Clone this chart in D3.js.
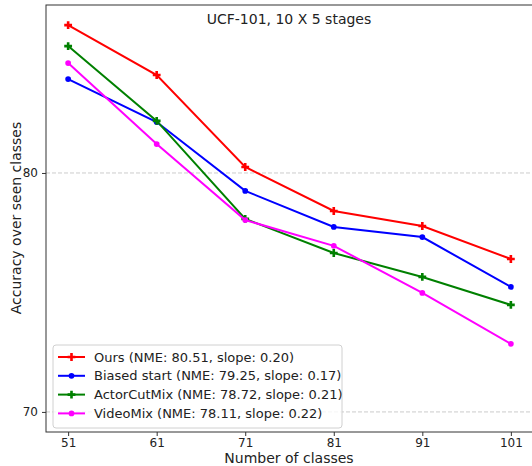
<!DOCTYPE html>
<meta charset="utf-8">
<style>
    body { margin: 0; background: #fff; }
    svg text { font-family: "DejaVu Sans", sans-serif; fill: #222; }
    .tick text { font-size: 12px; }
</style>
<svg id="chart" width="532" height="466"></svg>
<script src="https://cdn.jsdelivr.net/npm/d3@7"></script>
<script>
    // data
    const classes = [51, 61, 71, 81, 91, 101];
    const ours = [86.19, 84.1, 80.25, 78.41, 77.78, 76.4];
    const biasedStart = [83.93, 82.13, 79.25, 77.74, 77.32, 75.23];
    const actorCutMix = [85.31, 82.18, 78.08, 76.65, 75.65, 74.48];
    const videoMix = [84.6, 81.21, 78.03, 76.95, 74.98, 72.85];
    const yTicks = [70, 80];
    const labels = [
        "Ours (NME: 80.51, slope: 0.20)",
        "Biased start (NME: 79.25, slope: 0.17)",
        "ActorCutMix (NME: 78.72, slope: 0.21)",
        "VideoMix (NME: 78.11, slope: 0.22)"
    ];

    const series = [
        {name: labels[0], values: ours, color: "#ff0000", marker: d3.symbolCross},
        {name: labels[1], values: biasedStart, color: "#0000ff", marker: d3.symbolCircle},
        {name: labels[2], values: actorCutMix, color: "#008000", marker: d3.symbolCross},
        {name: labels[3], values: videoMix, color: "#ff00ff", marker: d3.symbolCircle}
    ];

    const margin = {left: 46, top: 5, right: -1, bottom: 34};
    const width = 532, height = 466;
    const svg = d3.select("#chart");

    const x = d3.scaleLinear().domain([48.5, 103.5]).range([margin.left, width - margin.right]);
    const y = d3.scaleLinear().domain([69.16, 87.03]).range([height - margin.bottom, margin.top]);

    // grid
    svg.append("g").selectAll("line")
        .data(yTicks)
        .join("line")
        .attr("x1", margin.left).attr("x2", width - margin.right)
        .attr("y1", d => y(d)).attr("y2", d => y(d))
        .attr("stroke", "#cccccc").attr("stroke-width", 1)
        .attr("stroke-dasharray", "4,2");

    // frame
    svg.append("rect")
        .attr("x", margin.left).attr("y", margin.top)
        .attr("width", width - margin.right - margin.left)
        .attr("height", height - margin.bottom - margin.top)
        .attr("fill", "none").attr("stroke", "#333").attr("stroke-width", 1);

    const xAxis = svg.append("g")
        .attr("transform", `translate(0,${height - margin.bottom})`)
        .call(d3.axisBottom(x).tickValues(classes).tickFormat(d3.format("d")).tickSize(4).tickPadding(2));
    const yAxis = svg.append("g")
        .attr("transform", `translate(${margin.left},0)`)
        .call(d3.axisLeft(y).tickValues(yTicks).tickFormat(d3.format("d")).tickSize(4).tickPadding(4));
    [xAxis, yAxis].forEach(a => {
        a.select(".domain").remove();
        a.selectAll(".tick line").attr("stroke", "#333");
        a.selectAll(".tick text").attr("fill", "#222");
    });

    const line = d3.line().x((d, i) => x(classes[i])).y(d => y(d));

    series.forEach(s => {
        svg.append("path")
            .datum(s.values)
            .attr("d", line)
            .attr("fill", "none")
            .attr("stroke", s.color)
            .attr("stroke-width", 2);
        svg.append("g").selectAll("path")
            .data(s.values)
            .join("path")
            .attr("transform", (d, i) => `translate(${x(classes[i])},${y(d)})`)
            .attr("d", d3.symbol().type(s.marker).size(s.marker === d3.symbolCross ? 34 : 26))
            .attr("fill", s.color);
    });

    // title
    svg.append("text")
        .attr("x", 289).attr("y", 24)
        .attr("text-anchor", "middle")
        .style("font-size", "14px")
        .text("UCF-101, 10 X 5 stages");

    // axis labels
    svg.append("text")
        .attr("x", 289).attr("y", 463)
        .attr("text-anchor", "middle")
        .style("font-size", "14px")
        .text("Number of classes");
    svg.append("text")
        .attr("transform", "translate(21,218) rotate(-90)")
        .attr("text-anchor", "middle")
        .style("font-size", "14px")
        .text("Accuracy over seen classes");

    // legend
    const legend = svg.append("g");
    legend.append("rect")
        .attr("x", 53).attr("y", 345).attr("width", 289).attr("height", 83)
        .attr("rx", 3)
        .attr("fill", "rgba(255,255,255,0.8)")
        .attr("stroke", "#d0d0d0");
    const item = legend.selectAll("g.item")
        .data(series)
        .join("g")
        .attr("class", "item")
        .attr("transform", (d, i) => `translate(58,${357 + i * 18.8})`);
    item.append("line")
        .attr("x1", 0).attr("x2", 27)
        .attr("stroke", d => d.color).attr("stroke-width", 2);
    item.append("path")
        .attr("transform", "translate(13.5,0)")
        .attr("d", d => d3.symbol().type(d.marker).size(d.marker === d3.symbolCross ? 34 : 26)())
        .attr("fill", d => d.color);
    item.append("text")
        .attr("x", 36).attr("dy", "0.35em")
        .style("font-size", "13px")
        .text(d => d.name);
</script>
